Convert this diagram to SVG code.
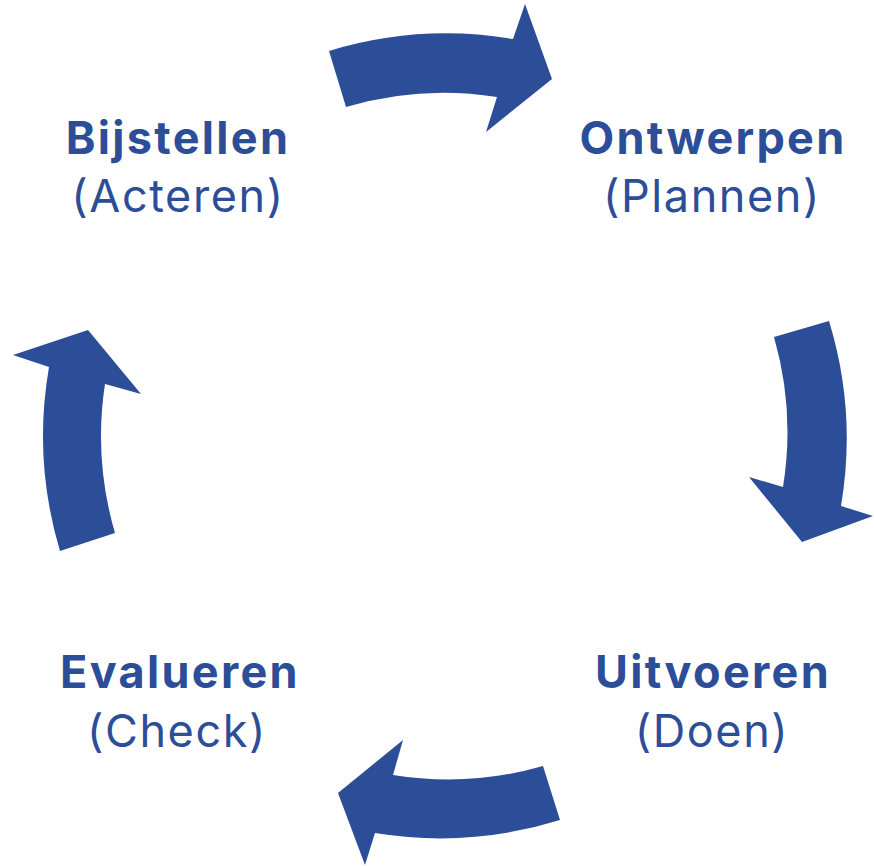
<svg xmlns="http://www.w3.org/2000/svg" width="874" height="866" viewBox="0 0 874 866">
<style>
.arrow{fill:#2C4D98;stroke:none}
.t{font-family:Inter,"Liberation Sans",sans-serif;fill:#2C4D98;text-anchor:middle}
.b{font-weight:700;font-size:45px;letter-spacing:2.3px}
.n{font-weight:400;font-size:45px;letter-spacing:1.6px}
</style>
<rect width="874" height="866" fill="#ffffff"/>
<g id="connectors">
<path class="arrow" d="M 329,51 A 402 402 0 0 1 513,39 L 525,4 L 552,79 L 486,132 L 497,97 A 344 344 0 0 0 346,107 Z"/>
<path class="arrow" d="M 829,321 A 402 402 0 0 1 841,506 L 873,516 L 802,542 L 749,477 L 783,487 A 344 344 0 0 0 774,337 Z"/>
<path class="arrow" d="M 560,820 A 402 402 0 0 1 375,833 L 365,865 L 338,793 L 403,740 L 393,775 A 344 344 0 0 0 543,766 Z"/>
<path class="arrow" d="M 60,551 A 402 402 0 0 1 49,367 L 13,355 L 88,330 L 141,394 L 105,384 A 344 344 0 0 0 115,533 Z"/>
</g>
<g id="node-bijstellen">
<text class="t b" x="178" y="154">Bijstellen</text>
<text class="t n" x="178" y="212">(Acteren)</text>
</g>
<g id="node-ontwerpen">
<text class="t b" x="713" y="154">Ontwerpen</text>
<text class="t n" x="712" y="212">(Plannen)</text>
</g>
<g id="node-uitvoeren">
<text class="t b" x="713" y="688">Uitvoeren</text>
<text class="t n" x="712" y="747">(Doen)</text>
</g>
<g id="node-evalueren">
<text class="t b" x="180" y="688">Evalueren</text>
<text class="t n" x="177" y="747">(Check)</text>
</g>
</svg>
